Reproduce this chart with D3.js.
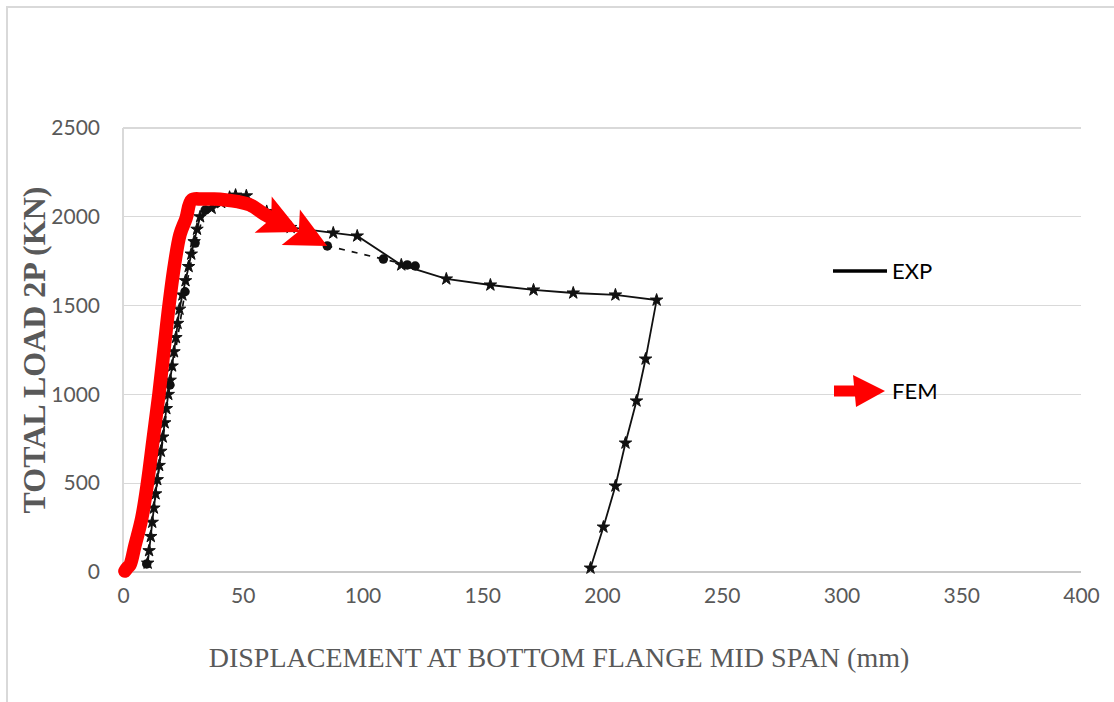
<!DOCTYPE html>
<html>
<head>
<meta charset="utf-8">
<script src="https://cdn.jsdelivr.net/npm/d3@7"></script>
<style>
  html, body { margin: 0; padding: 0; background: #fff; }
  svg { display: block; }
</style>
</head>
<body>
<svg id="chart" width="1114" height="702"></svg>
<script>
// Axis ticks
const xTicks = [0, 50, 100, 150, 200, 250, 300, 350, 400];
const yTicks = [0, 500, 1000, 1500, 2000, 2500];

// Experimental test 1 (stars, solid line): displacement (mm) / load (kN)
const expStarDisp = [10.3, 10.9, 11.6, 12.2, 12.9, 13.6, 14.3, 15.1, 15.8, 16.6, 17.4, 18.1, 18.9,
  19.7, 20.5, 21.3, 22.1, 22.8, 23.6, 24.8, 26.1, 27.4, 28.5, 29.7, 30.9, 32.2,
  37.0, 41.0, 44.5, 47.0, 51.5, 60.0, 70.0, 87.8, 97.8, 116.2, 135.0, 153.4, 171.4, 188.0, 205.6, 222.8,
  218.2, 214.4, 209.8, 205.6, 200.6, 195.2];
const expStarLoad = [50, 120, 200, 280, 360, 440, 520, 600, 680, 760, 840, 920, 1000,
  1080, 1160, 1240, 1320, 1400, 1480, 1560, 1640, 1720, 1790, 1860, 1930, 2000,
  2048, 2080, 2110, 2122, 2118, 2030, 1940, 1909, 1892, 1729, 1650, 1616, 1588, 1571, 1560, 1531,
  1199, 963, 726, 484, 253, 22];

// Experimental test 2 (circles, dashed line)
const expDotDisp = [9.9, 19.6, 25.9, 30.1, 34.3, 40.0, 46.0, 85.3, 108.7, 118.7, 122.0];
const expDotLoad = [45, 1053, 1578, 1852, 2038, 2085, 2100, 1836, 1762, 1729, 1723];

// Finite element curve (thick red line ending in arrow heads)
const femDisp = [0.8, 1.7, 2.9, 5.0, 7.8, 10.2, 12.6, 15.0, 17.1, 19.2, 21.5, 23.8, 26.3, 28.7,
  33.0, 38.0, 43.0, 48.0, 53.0, 59.0, 66.0];
const femLoad = [5, 22, 39, 150, 300, 500, 750, 1000, 1250, 1500, 1730, 1900, 1990, 2095,
  2100, 2100, 2095, 2085, 2067, 2015, 1965];
const femTipDisp = [74.0, 85.3];
const femTipLoad = [1914, 1836];

const legendItems = ["EXP", "FEM"];

const svg = d3.select("#chart");

// outer frame
svg.append("rect")
  .attr("x", 7).attr("y", 7).attr("width", 1130).attr("height", 720)
  .attr("fill", "none").attr("stroke", "#d9d9d9").attr("stroke-width", 2);

const x = d3.scaleLinear().domain([0, 400]).range([123, 1081]);
const y = d3.scaleLinear().domain([0, 2500]).range([572, 128]);

// horizontal gridlines
svg.append("g").selectAll("line").data(yTicks).join("line")
  .attr("x1", x(0)).attr("x2", x(400))
  .attr("y1", d => y(d)).attr("y2", d => y(d))
  .attr("stroke", d => d === 0 ? "#c8c8c8" : "#d9d9d9")
  .attr("stroke-width", d => d === 0 ? 1.5 : 1.2)
  .attr("shape-rendering", "crispEdges");

// vertical axis line
svg.append("line")
  .attr("x1", x(0)).attr("x2", x(0)).attr("y1", y(2500)).attr("y2", y(0))
  .attr("stroke", "#d9d9d9").attr("stroke-width", 1.2)
  .attr("shape-rendering", "crispEdges");

// tick labels
const tickFont = "Lato, 'Open Sans', sans-serif";
const yAxis = d3.axisLeft(y).tickValues(yTicks).tickSize(0).tickPadding(23).tickFormat(d3.format("d"));
const gy = svg.append("g").attr("transform", `translate(${x(0)},0)`).call(yAxis);
const xAxis = d3.axisBottom(x).tickValues(xTicks).tickSize(0).tickPadding(24).tickFormat(d3.format("d"));
const gx = svg.append("g").attr("transform", `translate(0,${y(0)})`).call(xAxis);
[gx, gy].forEach(g => {
  g.select(".domain").remove();
  g.selectAll("text").attr("font-family", tickFont).attr("font-size", 21).attr("fill", "#595959");
});
gx.selectAll("text").attr("dy", "0.35em");

// axis titles
svg.append("text")
  .attr("transform", "translate(45,350) rotate(-90)")
  .attr("text-anchor", "middle")
  .attr("font-family", "'Liberation Serif', 'Times New Roman', serif")
  .attr("font-weight", "bold").attr("font-size", 32).attr("fill", "#595959")
  .text("TOTAL LOAD 2P (KN)");
svg.append("text")
  .attr("x", 559).attr("y", 667)
  .attr("text-anchor", "middle")
  .attr("font-family", "'Liberation Serif', 'Times New Roman', serif")
  .attr("font-size", 28).attr("fill", "#595959")
  .text("DISPLACEMENT AT BOTTOM FLANGE MID SPAN (mm)");

// experimental curves
const starPts = expStarDisp.map((d, i) => [d, expStarLoad[i]]);
const dotPts = expDotDisp.map((d, i) => [d, expDotLoad[i]]);
const line = d3.line().x(d => x(d[0])).y(d => y(d[1]));

svg.append("path").datum(dotPts).attr("d", line)
  .attr("fill", "none").attr("stroke", "#111").attr("stroke-width", 1.7)
  .attr("stroke-dasharray", "6,7");
svg.append("path").datum(starPts).attr("d", line)
  .attr("fill", "none").attr("stroke", "#111").attr("stroke-width", 1.8);

svg.append("g").selectAll("path").data(dotPts).join("path")
  .attr("transform", d => `translate(${x(d[0])},${y(d[1])})`)
  .attr("d", d3.symbol(d3.symbolCircle, 70))
  .attr("fill", "#111");
svg.append("g").selectAll("path").data(starPts).join("path")
  .attr("transform", d => `translate(${x(d[0])},${y(d[1])})`)
  .attr("d", d3.symbol(d3.symbolStar, 48))
  .attr("fill", "#111").attr("stroke", "#111").attr("stroke-width", 1)
  .attr("stroke-linejoin", "round");

// FEM curve
const femPts = femDisp.map((d, i) => [d, femLoad[i]]);
const red = "#ff0000";
svg.append("path").datum(femPts)
  .attr("d", d3.line().x(d => x(d[0])).y(d => y(d[1])).curve(d3.curveCatmullRom.alpha(0.5)))
  .attr("fill", "none").attr("stroke", red).attr("stroke-width", 13.5)
  .attr("stroke-linejoin", "round").attr("stroke-linecap", "round");

// arrow heads at the end of the FEM curve
const headLen = 41, headHalf = 20, notch = 9;
let prev = femPts[femPts.length - 1];
femTipDisp.forEach((td, i) => {
  const tip = [x(td), y(femTipLoad[i])];
  const from = [x(prev[0]), y(prev[1])];
  const ang = Math.atan2(tip[1] - from[1], tip[0] - from[0]) * 180 / Math.PI;
  svg.append("path")
    .attr("transform", `translate(${tip[0]},${tip[1]}) rotate(${ang})`)
    .attr("d", `M0,0 L${-headLen},${-headHalf} L${-headLen + notch},0 L${-headLen},${headHalf} Z`)
    .attr("fill", red);
  prev = [td, femTipLoad[i]];
});

// legend
const lg = svg.append("g");
lg.append("line").attr("x1", 833).attr("x2", 887).attr("y1", 271).attr("y2", 271)
  .attr("stroke", "#000").attr("stroke-width", 3.5);
lg.append("rect").attr("x", 834).attr("y", 385.5).attr("width", 24).attr("height", 11).attr("fill", red);
lg.append("path").attr("d", "M853,375 L885,391 L856,407 Z").attr("fill", red);
lg.selectAll("text").data(legendItems).join("text")
  .attr("x", 892).attr("y", (d, i) => i === 0 ? 279 : 399)
  .attr("font-family", tickFont).attr("font-size", 22).attr("fill", "#000")
  .text(d => d);
</script>
</body>
</html>
